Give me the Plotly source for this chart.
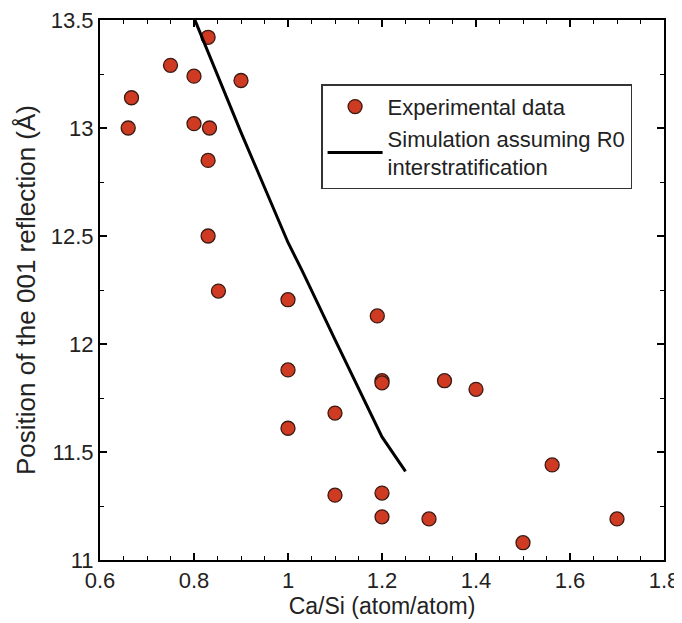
import plotly.graph_objects as go

# ===== data =====
exp_ca_si = [0.66, 0.667, 0.75, 0.80, 0.80, 0.83, 0.833, 0.83, 0.83, 0.852, 0.90,
             1.00, 1.00, 1.00, 1.10, 1.10, 1.19, 1.20, 1.20, 1.20, 1.20,
             1.30, 1.333, 1.40, 1.50, 1.562, 1.70]
exp_pos = [13.00, 13.14, 13.29, 13.24, 13.02, 13.42, 13.00, 12.85, 12.50, 12.245, 13.22,
           12.205, 11.88, 11.61, 11.68, 11.30, 12.13, 11.83, 11.82, 11.31, 11.20,
           11.19, 11.83, 11.79, 11.08, 11.44, 11.19]

sim_ca_si = [0.80, 0.90, 1.00, 1.03, 1.10, 1.20, 1.25]
sim_pos = [13.51, 12.98, 12.47, 12.34, 12.02, 11.57, 11.41]

FONT = "Liberation Sans, Arial, sans-serif"
TXT = "#222222"

fig = go.Figure()

fig.add_trace(go.Scatter(
    x=exp_ca_si, y=exp_pos,
    mode="markers",
    name="Experimental data",
    marker=dict(size=14, color="#cf3b22", line=dict(color="#3a1a12", width=1.3)),
))

fig.add_trace(go.Scatter(
    x=sim_ca_si, y=sim_pos,
    mode="lines",
    name="Simulation assuming R0<br>interstratification",
    line=dict(color="black", width=3),
))

axis_common = dict(
    showgrid=False, zeroline=False,
    showline=True, linecolor="black", linewidth=2,
    mirror="ticks", ticks="inside", ticklen=7, tickwidth=1.5, tickcolor="black",
    ticklabeloverflow="allow",
    tickfont=dict(size=22, color=TXT, family=FONT),
)

fig.update_xaxes(
    range=[0.6, 1.8], dtick=0.2, tick0=0.6, automargin=False,
    minor=dict(dtick=0.05, ticks="inside", ticklen=4, tickwidth=1.2, tickcolor="black"),
    title=dict(text="Ca/Si (atom/atom)", font=dict(size=23, color=TXT, family=FONT), standoff=0),
    **axis_common
)
fig.update_yaxes(
    range=[11, 13.5], dtick=0.5, tick0=11, automargin="left+right",
    minor=dict(dtick=0.25, ticks="inside", ticklen=4, tickwidth=1.2, tickcolor="black"),
    title=dict(text="Position of the 001 reflection (Å)", font=dict(size=26, color=TXT, family=FONT), standoff=8),
    **axis_common
)

# page body adds 8px, margins set so the plot box lands where the reference has it
fig.update_layout(
    width=682, height=623,
    plot_bgcolor="white", paper_bgcolor="white",
    font=dict(family=FONT, color=TXT),
    margin=dict(l=92, r=26, t=12, b=71),
    legend=dict(
        x=0.392, y=0.881, xanchor="left", yanchor="top",
        bgcolor="white", bordercolor="#333333", borderwidth=1.5,
        font=dict(size=22, color=TXT, family=FONT),
        tracegroupgap=0, itemwidth=55,
    ),
)

fig.write_html("out.html")
